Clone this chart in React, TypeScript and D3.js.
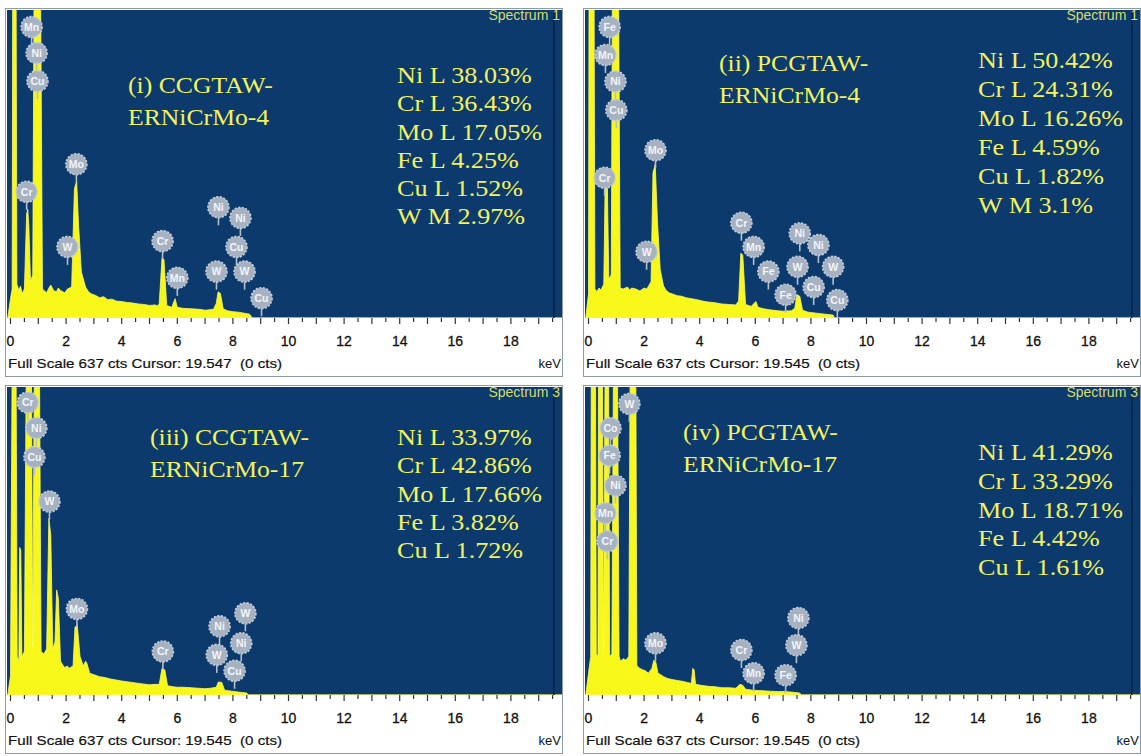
import React from "react";
import * as d3 from "d3";

// EDS spectra, [keV, counts]; full scale is 637 cts, taller peaks are clipped by the plot
const FULL_SCALE = 637;
const tickLabels = [0, 2, 4, 6, 8, 10, 12, 14, 16, 18];

const spectrumI: [number, number][] = [
  [-0.1, 0], [0.0, 40], [0.06, 60], [0.08, 700], [0.2, 700], [0.23, 70], [0.3, 57], [0.36, 66], [0.42, 50],
  [0.5, 60], [0.58, 215], [0.62, 225], [0.66, 190], [0.72, 75], [0.8, 90], [0.85, 700], [1.08, 700],
  [1.15, 60], [1.2, 57], [1.3, 52], [1.38, 62], [1.45, 68], [1.55, 57], [1.65, 54], [1.72, 62], [1.8, 57],
  [1.95, 52], [2.05, 60], [2.2, 64], [2.3, 268], [2.38, 283], [2.45, 190], [2.55, 95], [2.7, 64],
  [2.8, 55], [2.9, 50], [3.05, 47], [3.2, 42], [3.35, 44], [3.5, 38], [3.65, 39], [3.8, 35], [4.0, 34],
  [4.2, 32], [4.4, 31], [4.6, 29], [4.8, 28], [5.0, 26], [5.2, 27], [5.3, 25], [5.35, 30], [5.45, 124],
  [5.52, 121], [5.62, 26], [5.8, 22], [5.92, 40], [6.0, 22], [6.2, 20], [6.5, 19], [6.8, 18], [7.0, 16],
  [7.3, 18], [7.4, 30], [7.47, 54], [7.55, 51], [7.65, 19], [7.8, 15], [8.0, 13], [8.2, 12], [8.4, 10],
  [8.6, 8], [8.7, 0], [19.9, 0],
];
const spectrumII: [number, number][] = [
  [-0.1, 0], [0.0, 50], [0.02, 700], [0.2, 700], [0.23, 60], [0.3, 55], [0.38, 62], [0.45, 58],
  [0.55, 70], [0.6, 280], [0.64, 290], [0.68, 270], [0.73, 80], [0.82, 90], [0.86, 700], [1.08, 700],
  [1.14, 62], [1.25, 60], [1.4, 64], [1.48, 58], [1.55, 62], [1.7, 60], [1.85, 56], [2.0, 62], [2.1, 60],
  [2.25, 75], [2.32, 300], [2.4, 318], [2.48, 200], [2.58, 100], [2.7, 66], [2.8, 57], [2.9, 52],
  [3.05, 49], [3.2, 46], [3.35, 45], [3.5, 42], [3.7, 40], [3.9, 38], [4.1, 35], [4.3, 33], [4.5, 32],
  [4.8, 29], [5.05, 28], [5.3, 27], [5.4, 35], [5.48, 134], [5.55, 130], [5.65, 28], [5.85, 24],
  [6.02, 34], [6.1, 22], [6.3, 19], [6.5, 17], [6.8, 15], [7.0, 14], [7.3, 15], [7.42, 20], [7.5, 48],
  [7.6, 45], [7.7, 16], [7.9, 12], [8.2, 10], [8.5, 8], [8.8, 6], [8.85, 0], [19.9, 0],
];
const spectrumIII: [number, number][] = [
  [-0.1, 0], [0.0, 40], [0.06, 700], [0.2, 700], [0.24, 80], [0.3, 70], [0.33, 305], [0.37, 300],
  [0.41, 80], [0.5, 90], [0.57, 700], [0.75, 700], [0.8, 100], [0.86, 700], [1.04, 700], [1.1, 90],
  [1.2, 85], [1.3, 95], [1.38, 365], [1.45, 330], [1.52, 95], [1.6, 110], [1.66, 217], [1.72, 200],
  [1.8, 70], [1.88, 62], [1.95, 57], [2.05, 60], [2.1, 55], [2.25, 60], [2.32, 140], [2.4, 145],
  [2.5, 80], [2.62, 60], [2.7, 70], [2.75, 65], [2.85, 45], [3.0, 42], [3.2, 38], [3.4, 36], [3.6, 33],
  [3.8, 31], [4.0, 29], [4.25, 27], [4.5, 25], [4.75, 23], [5.0, 21], [5.2, 22], [5.35, 22], [5.45, 55],
  [5.55, 52], [5.65, 19], [5.85, 17], [6.0, 16], [6.25, 16], [6.5, 15], [6.75, 14], [7.0, 13],
  [7.2, 14], [7.4, 16], [7.48, 27], [7.6, 26], [7.7, 10], [7.95, 8], [8.2, 6], [8.5, 4], [8.55, 0],
  [19.9, 0],
];
const spectrumIV: [number, number][] = [
  [-0.1, 0], [0.0, 45], [0.08, 80], [0.1, 700], [0.25, 700], [0.28, 85], [0.34, 80], [0.36, 700],
  [0.5, 700], [0.54, 85], [0.6, 700], [0.72, 700], [0.76, 80], [0.84, 85], [0.9, 700], [1.04, 700],
  [1.1, 80], [1.15, 70], [1.25, 75], [1.35, 72], [1.45, 80], [1.5, 700], [1.7, 700], [1.74, 60],
  [1.85, 55], [1.95, 52], [2.05, 50], [2.15, 45], [2.28, 55], [2.35, 72], [2.42, 68], [2.5, 45],
  [2.6, 42], [2.7, 38], [2.85, 34], [3.0, 32], [3.2, 30], [3.4, 28], [3.55, 26], [3.7, 24], [3.75, 55],
  [3.8, 52], [3.85, 22], [4.05, 20], [4.3, 18], [4.55, 17], [4.8, 15], [5.05, 15], [5.3, 14], [5.45, 22],
  [5.55, 20], [5.65, 12], [5.9, 10], [6.2, 9], [6.5, 8], [6.8, 7], [7.05, 7], [7.3, 6], [7.6, 4],
  [7.65, 0], [19.9, 0],
];

// peak labels: [element, keV, counts level of the badge centre]
const badgesI: [string, number, number][] = [
  ["Mn", 0.76, 602], ["Ni", 0.94, 548], ["Cu", 0.97, 490], ["Cr", 0.58, 261], ["Mo", 2.37, 318],
  ["W", 2.05, 147], ["Cr", 5.47, 159], ["Mn", 6.0, 83], ["Ni", 7.48, 229], ["Ni", 8.27, 207],
  ["Cu", 8.13, 147], ["W", 7.41, 96], ["W", 8.42, 96], ["Cu", 9.03, 41],
];
const badgesII: [string, number, number][] = [
  ["Fe", 0.76, 602], ["Mn", 0.61, 544], ["Ni", 0.97, 489], ["Cu", 1.0, 430], ["Cr", 0.58, 290],
  ["Mo", 2.41, 347], ["W", 2.09, 137], ["Cr", 5.5, 197], ["Mn", 5.94, 147], ["Fe", 6.47, 96],
  ["Ni", 7.6, 175], ["Ni", 8.27, 151], ["W", 7.52, 106], ["W", 8.8, 106], ["Fe", 7.09, 48],
  ["Cu", 8.1, 64], ["Cu", 8.95, 37],
];
const badgesIII: [string, number, number][] = [
  ["Cr", 0.62, 605], ["Ni", 0.93, 552], ["Cu", 0.86, 492], ["W", 1.4, 400], ["Mo", 2.39, 178],
  ["Cr", 5.48, 90], ["Ni", 7.52, 142], ["W", 8.45, 169], ["Ni", 8.3, 107], ["W", 7.42, 83],
  ["Cu", 8.06, 50],
];
const badgesIV: [string, number, number][] = [
  ["W", 1.47, 602], ["Co", 0.79, 552], ["Fe", 0.76, 495], ["Ni", 0.97, 433], ["Mn", 0.61, 376],
  ["Cr", 0.68, 318], ["Mo", 2.41, 107], ["Cr", 5.5, 93], ["Mn", 5.94, 45], ["Fe", 7.09, 41],
  ["Ni", 7.55, 159], ["W", 7.48, 103],
];

const titleI = ["(i) CCGTAW-", "ERNiCrMo-4"];
const titleII = ["(ii) PCGTAW-", "ERNiCrMo-4"];
const titleIII = ["(iii) CCGTAW-", "ERNiCrMo-17"];
const titleIV = ["(iv) PCGTAW-", "ERNiCrMo-17"];

const compI = ["Ni L 38.03%", "Cr L 36.43%", "Mo L 17.05%", "Fe L 4.25%", "Cu L 1.52%", "W M 2.97%"];
const compII = ["Ni L 50.42%", "Cr L 24.31%", "Mo L 16.26%", "Fe L 4.59%", "Cu L 1.82%", "W M 3.1%"];
const compIII = ["Ni L 33.97%", "Cr L 42.86%", "Mo L 17.66%", "Fe L 3.82%", "Cu L 1.72%"];
const compIV = ["Ni L 41.29%", "Cr L 33.29%", "Mo L 18.71%", "Fe L 4.42%", "Cu L 1.61%"];

const cursors = [19.547, 19.545, 19.545, 19.545];
const spectrumNames = ["Spectrum 1", "Spectrum 1", "Spectrum 3", "Spectrum 3"];

const panels = [
  { ox: 5, oy: 8, spectrum: spectrumI, badges: badgesI, title: titleI, comp: compI, tx: 123, ty: 85, cy: 75, cs: 28.3 },
  { ox: 583, oy: 8, spectrum: spectrumII, badges: badgesII, title: titleII, comp: compII, tx: 136, ty: 63, cy: 60, cs: 29 },
  { ox: 5, oy: 385, spectrum: spectrumIII, badges: badgesIII, title: titleIII, comp: compIII, tx: 145, ty: 60, cy: 60, cs: 28.3 },
  { ox: 583, oy: 385, spectrum: spectrumIV, badges: badgesIV, title: titleIV, comp: compIV, tx: 100, ty: 55, cy: 75, cs: 28.8 },
];

const BLUE = "#0c3a6c";
const YELLOW = "#f8f71a";
const TEXT_YELLOW = "#f1f25e";
const SANS = "'Liberation Sans', Arial, sans-serif";
const SERIF = "'Liberation Serif', 'Times New Roman', serif";

function Panel({ p, i }: { p: (typeof panels)[number]; i: number }) {
  const { ox, oy } = p;
  const plotTop = oy + 2;
  const plotBottom = oy + 310;
  const plotLeft = ox + 2;
  const plotRight = ox + 557;
  const x = d3.scaleLinear().domain([0, 20]).range([ox + 5.5, ox + 5.5 + 556]);
  const y = d3.scaleLinear().domain([0, FULL_SCALE]).range([plotBottom, plotTop]);
  const area = d3
    .area<[number, number]>()
    .x((d) => x(d[0]))
    .y0(plotBottom)
    .y1((d) => y(d[1]));
  const clipId = `clip${i}`;
  const ticks = d3.range(0, 20, 0.5);

  return (
    <g>
      <rect x={ox + 0.5} y={oy + 0.5} width={557} height={368} fill="#fff" stroke="#8c9aaa" />
      <rect x={plotLeft} y={plotTop} width={plotRight - plotLeft} height={plotBottom - plotTop} fill={BLUE} />
      <clipPath id={clipId}>
        <rect x={plotLeft} y={plotTop} width={plotRight - plotLeft} height={plotBottom - plotTop} />
      </clipPath>
      <g clipPath={`url(#${clipId})`}>
        <path d={area(p.spectrum) ?? ""} fill={YELLOW} stroke="#fbfa6a" strokeWidth={0.8} />
        <line x1={x(cursors[i])} x2={x(cursors[i])} y1={plotTop} y2={plotBottom} stroke="#081f3d" strokeWidth={1.5} />
      </g>
      {/* peak badges */}
      {p.badges.map(([el, kev, c], j) => (
        <g key={j} transform={`translate(${x(kev)},${y(c)})`}>
          <line x1={0} x2={0} y1={10} y2={18} stroke="#b4bfcc" strokeWidth={1.6} />
          <circle r={10.5} fill="#a6b2c2" stroke="#c3ccd7" strokeWidth={1.6} strokeDasharray="2.2 1.4" />
          <text textAnchor="middle" dy="0.36em" fontFamily={SANS} fontSize={10.5} fontWeight="bold" fill="#f3f5f8">
            {el}
          </text>
        </g>
      ))}
      <text x={plotRight - 2} y={oy + 12} textAnchor="end" fontFamily={SANS} fontSize={14} fill="#d3dc6e">
        {spectrumNames[i]}
      </text>
      <g transform={`translate(${ox + p.tx},${oy + p.ty}) scale(1.07,1)`}>
        {p.title.map((t, j) => (
          <text key={j} y={j * 32} fontFamily={SERIF} fontSize={24} fill={TEXT_YELLOW}>
            {t}
          </text>
        ))}
      </g>
      <g transform={`translate(${ox + (ox < 100 ? 392 : 395)},${oy + p.cy}) scale(1.09,1)`}>
        {p.comp.map((t, j) => (
          <text key={j} y={j * p.cs} fontFamily={SERIF} fontSize={24} fill={TEXT_YELLOW}>
            {t}
          </text>
        ))}
      </g>
      {/* energy axis */}
      {ticks.map((t) => (
        <line
          key={t}
          x1={x(t)}
          x2={x(t)}
          y1={plotBottom}
          y2={plotBottom + (t % 1 === 0 ? 6 : 4)}
          stroke="#333"
          strokeWidth={1.2}
        />
      ))}
      {tickLabels.map((t) => (
        <text
          key={t}
          x={x(t)}
          y={oy + 338}
          textAnchor="middle"
          fontFamily={SANS}
          fontSize={14}
          fill="#111"
          stroke="#111"
          strokeWidth={0.3}
        >
          {t}
        </text>
      ))}
      <text
        x={ox + 3}
        y={oy + 360}
        fontFamily={SANS}
        fontSize={13}
        fill="#111"
        stroke="#111"
        strokeWidth={0.2}
        textLength={274}
        lengthAdjust="spacingAndGlyphs"
        style={{ whiteSpace: "pre" }}
      >
        {`Full Scale ${FULL_SCALE} cts Cursor: ${cursors[i]}  (0 cts)`}
      </text>
      <text x={plotRight - 1} y={oy + 360} textAnchor="end" fontFamily={SANS} fontSize={13} fill="#111">
        keV
      </text>
    </g>
  );
}

export default function App() {
  return (
    <svg width={1141} height={756} style={{ position: "absolute", left: 0, top: 0, background: "#fff" }}>
      {panels.map((p, i) => (
        <Panel key={i} p={p} i={i} />
      ))}
    </svg>
  );
}
